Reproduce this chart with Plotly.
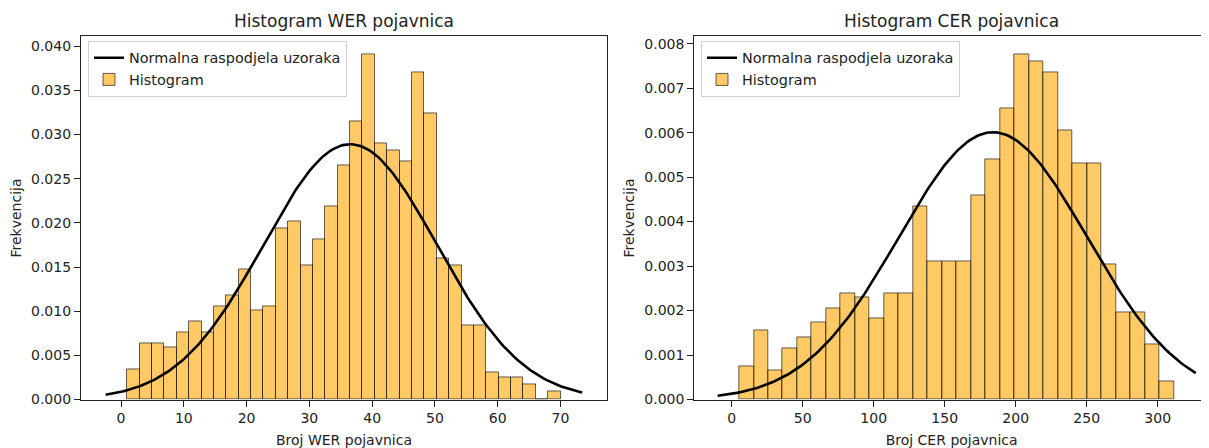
import numpy as np
import plotly.graph_objects as go

# ---------------- data ----------------
wer_bin_lo, wer_bin_hi, wer_nbins = 1.0, 70.0, 35
wer_density = [0.0034, 0.00636, 0.00636, 0.00592, 0.00762, 0.00884, 0.00762, 0.01054,
               0.0118, 0.01475, 0.01014, 0.01054, 0.01934, 0.0202, 0.01524, 0.01812,
               0.0219, 0.02647, 0.03154, 0.03911, 0.02902, 0.02817, 0.02692, 0.03701,
               0.03243, 0.01597, 0.01524, 0.00843, 0.00843, 0.00304, 0.00255, 0.00255,
               0.00171, 0.0, 0.00089]
wer_mean, wer_std = 36.5, 13.8
wer_curve_lo, wer_curve_hi = -2.45, 73.45

cer_bin_lo, cer_bin_hi, cer_nbins = 5.4, 311.4, 30
cer_density = [0.000749, 0.001557, 0.000661, 0.001154, 0.001403, 0.001726, 0.002048,
               0.002378, 0.002299, 0.001814, 0.002378, 0.002378, 0.004338, 0.003105,
               0.003105, 0.003105, 0.00458, 0.005394, 0.00654, 0.007766, 0.007596,
               0.007363, 0.006048, 0.005315, 0.005315, 0.003032, 0.001968, 0.001968,
               0.001233, 0.000418]
cer_mean, cer_std = 184.0, 66.4
cer_curve_lo, cer_curve_hi = -9.9, 326.8

titles = ["Histogram WER pojavnica", "Histogram CER pojavnica"]
xlabels = ["Broj WER pojavnica", "Broj CER pojavnica"]
ylabel = "Frekvencija"
curve_name = "Normalna raspodjela uzoraka"
hist_name = "Histogram"

# ---------------- figure ----------------
OFF = 8  # browser default body margin
W, H = 1209 - OFF, 448 - OFF
FONT = "DejaVu Sans"
BAR_FILL = "rgba(255,165,0,0.6)"
BAR_EDGE = "rgba(0,0,0,0.6)"


def centers_widths(lo, hi, n):
    edges = np.linspace(lo, hi, n + 1)
    return (edges[:-1] + edges[1:]) / 2, edges[1:] - edges[:-1]


def normal_pdf(x, mu, sd):
    return np.exp(-0.5 * ((x - mu) / sd) ** 2) / (sd * np.sqrt(2 * np.pi))


fig = go.Figure()

specs = [
    (wer_bin_lo, wer_bin_hi, wer_nbins, wer_density, wer_mean, wer_std,
     wer_curve_lo, wer_curve_hi, "x", "y", "legend"),
    (cer_bin_lo, cer_bin_hi, cer_nbins, cer_density, cer_mean, cer_std,
     cer_curve_lo, cer_curve_hi, "x2", "y2", "legend2"),
]
for lo, hi, n, dens, mu, sd, clo, chi, xa, ya, lg in specs:
    c, w = centers_widths(lo, hi, n)
    fig.add_trace(go.Bar(x=c, y=dens, width=w, name=hist_name, xaxis=xa, yaxis=ya,
                         marker=dict(color=BAR_FILL, line=dict(color=BAR_EDGE, width=1)),
                         legend=lg, legendrank=2))
    xs = np.linspace(clo, chi, 200)
    fig.add_trace(go.Scatter(x=xs, y=normal_pdf(xs, mu, sd), mode="lines", name=curve_name,
                             line=dict(color="black", width=2.6), xaxis=xa, yaxis=ya,
                             legend=lg, legendrank=1))


def px_x(p):
    return min(1.0, (p - OFF) / W)


def px_y(p):
    return 1 - (p - OFF) / H


top_px, bot_px = 36.0, 406.7
ydom = [px_y(bot_px), px_y(top_px)]

axis_common = dict(showline=True, linecolor="#222", linewidth=1.2, ticks="outside",
                   ticklen=6, tickcolor="#222", tickwidth=1.2, showgrid=False, zeroline=False,
                   tickfont=dict(family=FONT, size=14, color="#222"))

fig.update_layout(
    width=W, height=H, margin=dict(l=0, r=0, t=0, b=0),
    paper_bgcolor="white", plot_bgcolor="white", barmode="overlay", bargap=0,
    font=dict(family=FONT, color="#222"),
    xaxis=dict(domain=[px_x(81), px_x(607)], range=[-6.37, 77.4], anchor="y",
               tickvals=[0, 10, 20, 30, 40, 50, 60, 70], mirror=True,
               title=dict(text=xlabels[0], font=dict(family=FONT, size=14), standoff=9),
               **axis_common),
    yaxis=dict(domain=ydom, range=[0, 0.04111], anchor="x", dtick=0.005, tickformat=".3f",
               mirror=True,
               title=dict(text=ylabel, font=dict(family=FONT, size=14), standoff=6),
               **axis_common),
    xaxis2=dict(domain=[px_x(694.3), 1.0], range=[-26.3, 336.1], anchor="y2",
                tickvals=[0, 50, 100, 150, 200, 250, 300], mirror=True,
                title=dict(text=xlabels[1], font=dict(family=FONT, size=14), standoff=9),
                **axis_common),
    yaxis2=dict(domain=ydom, range=[0, 0.008162], anchor="x2", dtick=0.001, tickformat=".3f",
                mirror=False,
                title=dict(text=ylabel, font=dict(family=FONT, size=14), standoff=6),
                **axis_common),
    legend=dict(x=px_x(88), y=px_y(40.5), xanchor="left", yanchor="top",
                bgcolor="rgba(255,255,255,0.8)", bordercolor="#d0d0d0", borderwidth=1,
                font=dict(family=FONT, size=14.4, color="#222"), itemwidth=30,
                tracegroupgap=0),
    legend2=dict(x=px_x(701), y=px_y(40.5), xanchor="left", yanchor="top",
                 bgcolor="rgba(255,255,255,0.8)", bordercolor="#d0d0d0", borderwidth=1,
                 font=dict(family=FONT, size=14.4, color="#222"), itemwidth=30,
                 tracegroupgap=0),
    showlegend=True,
)

for t, xc in [(titles[0], (81 + 607) / 2), (titles[1], 951.5)]:
    fig.add_annotation(text=t, x=px_x(xc), y=px_y(32.5), xref="paper", yref="paper",
                       xanchor="center", yanchor="bottom", showarrow=False,
                       font=dict(family=FONT, size=17, color="#222"))

fig.write_html("out.html")
